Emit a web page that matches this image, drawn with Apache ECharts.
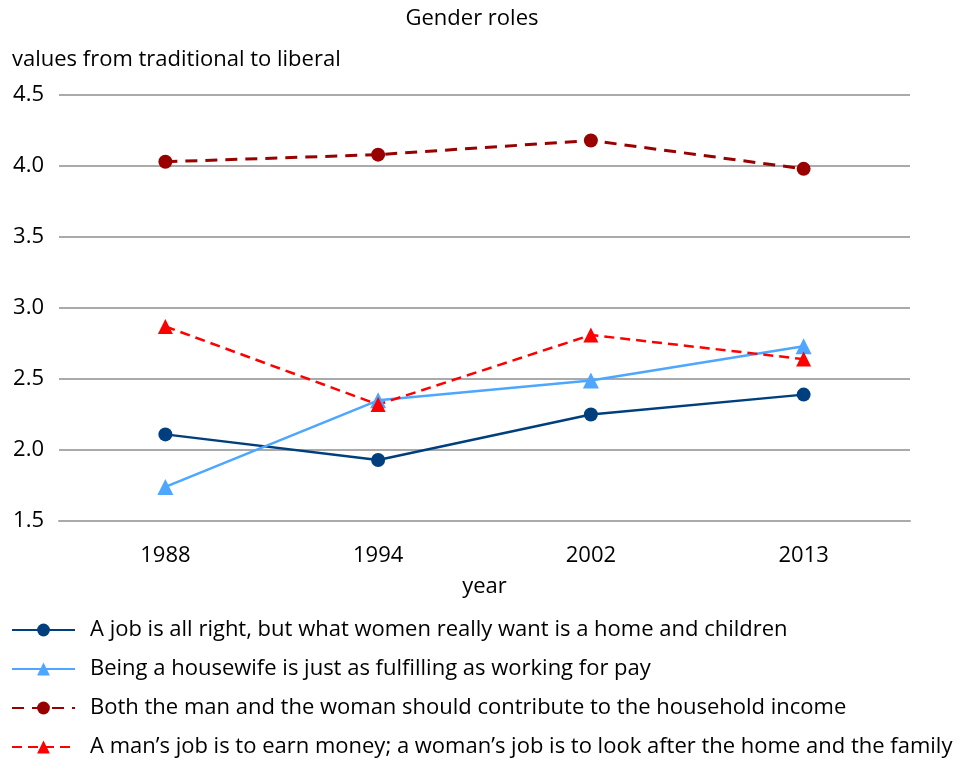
<!DOCTYPE html>
<html><head><meta charset="utf-8">
<script src="https://cdn.jsdelivr.net/npm/echarts@6/dist/echarts.min.js"></script>
<style>html,body{margin:0;padding:0;background:#fff}#c{width:968px;height:758px}</style>
</head><body><div id="c"></div>
<script>
const years = ['1988','1994','2002','2013'];
const seriesNames = [
  'A job is all right, but what women really want is a home and children',
  'Being a housewife is just as fulfilling as working for pay',
  'Both the man and the woman should contribute to the household income',
  'A man\u2019s job is to earn money; a woman\u2019s job is to look after the home and the family'
];
const jobAllRight = [2.11, 1.93, 2.25, 2.39];
const housewife = [1.74, 2.35, 2.49, 2.73];
const bothContribute = [4.03, 4.08, 4.18, 3.98];
const mansJob = [2.87, 2.32, 2.81, 2.64];

const FONT = 'Open Sans';
const FS = 22;
const chart = echarts.init(document.getElementById('c'));
function mk(name, data, color, symbol, dash, width, size) {
  return {
    name, type: 'line', data, symbol, symbolSize: size,
    itemStyle: { color },
    lineStyle: { color, width, type: dash || 'solid' },
    emphasis: { disabled: true }
  };
}
chart.setOption({
  animation: false,
  textStyle: { fontFamily: FONT },
  title: {
    text: 'Gender roles', left: 467, top: 3, textAlign: 'center',
    textStyle: { fontFamily: FONT, fontSize: FS, fontWeight: 'normal', color: '#000' }
  },
  grid: { left: 59, right: 58, top: 95, bottom: 237 },
  xAxis: {
    type: 'category', data: years,
    name: 'year', nameLocation: 'middle', nameGap: 55,
    nameTextStyle: { fontFamily: FONT, fontSize: FS, color: '#000' },
    axisLine: { lineStyle: { color: '#aaaaaa', width: 2 } },
    axisTick: { alignWithLabel: true, length: 12, lineStyle: { color: '#aaaaaa', width: 2 } },
    axisLabel: { fontFamily: FONT, fontSize: FS, color: '#000', margin: 24 }
  },
  yAxis: {
    type: 'value', min: 1.5, max: 4.5, interval: 0.5,
    name: 'values from traditional to liberal', nameLocation: 'end', nameGap: 24,
    nameTextStyle: { fontFamily: FONT, fontSize: FS, color: '#000', align: 'left', padding: [0, 0, 0, -47] },
    axisLine: { show: false }, axisTick: { show: false },
    axisLabel: { fontFamily: FONT, fontSize: FS, color: '#000', margin: 15, formatter: v => v.toFixed(1) },
    splitLine: { lineStyle: { color: '#aaaaaa', width: 2 } }
  },
  legend: {
    orient: 'vertical', left: 11, top: 619, itemGap: 17, padding: 0,
    itemWidth: 63, itemHeight: 16,
    textStyle: { fontFamily: FONT, fontSize: FS, color: '#000', padding: [0, 0, 0, 10] },
    data: seriesNames
  },
  series: [
    mk(seriesNames[0], jobAllRight, '#003f7d', 'circle', null, 2.5, 14),
    mk(seriesNames[1], housewife, '#4da6ff', 'triangle', null, 2.5, 16),
    mk(seriesNames[2], bothContribute, '#990000', 'circle', [12, 8], 3, 14),
    mk(seriesNames[3], mansJob, '#ff0000', 'triangle', [10, 6], 2.5, 15)
  ]
});
</script></body></html>
